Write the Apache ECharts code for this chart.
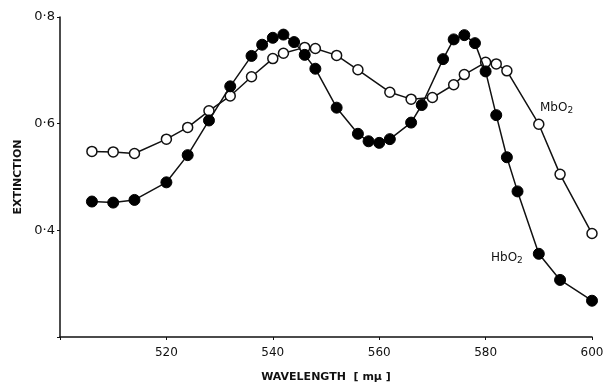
<!DOCTYPE html>
<html>
<head>
<meta charset="utf-8">
<script src="https://cdn.jsdelivr.net/npm/echarts@6/dist/echarts.min.js"></script>
<style>
  html, body { margin: 0; padding: 0; background: #fff; }
  #chart { width: 608px; height: 386px; }
</style>
</head>
<body>
<div id="chart"></div>
<script>
// wavelength in mμ, extinction
const mbWavelength = [506, 510, 514, 520, 524, 528, 532, 536, 540, 542, 546, 548, 552, 556, 562, 566, 570, 574, 576, 580, 582, 584, 590, 594, 600];
const mbExtinction = [0.548, 0.547, 0.544, 0.571, 0.593, 0.624, 0.652, 0.688, 0.722, 0.732, 0.743, 0.741, 0.728, 0.701, 0.659, 0.646, 0.649, 0.673, 0.692, 0.715, 0.712, 0.699, 0.599, 0.505, 0.394];

const hbWavelength = [506, 510, 514, 520, 524, 528, 532, 536, 538, 540, 542, 544, 546, 548, 552, 556, 558, 560, 562, 566, 568, 572, 574, 576, 578, 580, 582, 584, 586, 590, 594, 600];
const hbExtinction = [0.454, 0.452, 0.457, 0.490, 0.541, 0.606, 0.670, 0.727, 0.748, 0.761, 0.767, 0.753, 0.729, 0.703, 0.630, 0.581, 0.567, 0.564, 0.571, 0.602, 0.635, 0.721, 0.758, 0.766, 0.751, 0.698, 0.616, 0.537, 0.473, 0.356, 0.307, 0.268];

const yTicks = [0.4, 0.6, 0.8];
const xTicks = [520, 540, 560, 580, 600];

const font = 'DejaVu Sans';

function zip(xs, ys) {
  return xs.map((x, i) => [x, ys[i]]);
}

const chart = echarts.init(document.getElementById('chart'));

const option = {
  animation: false,
  backgroundColor: '#fff',
  grid: { left: 60, right: 16, top: 17, bottom: 49, outerBoundsMode: 'none' },
  xAxis: {
    type: 'value',
    min: 500,
    max: 600,
    interval: 20,
    name: 'WAVELENGTH  [ mμ ]',
    nameLocation: 'middle',
    nameGap: 35,
    nameTextStyle: { color: '#111', fontFamily: font, fontSize: 11, fontWeight: 'bold' },
    axisLine: { lineStyle: { color: '#111', width: 1.5 } },
    axisTick: { show: true, length: 3, lineStyle: { color: '#111' } },
    splitLine: { show: false },
    axisLabel: {
      color: '#111', fontFamily: font, fontSize: 12, margin: 10,
      formatter: v => xTicks.includes(v) ? String(v) : ''
    }
  },
  yAxis: {
    type: 'value',
    min: 0.2,
    max: 0.8,
    interval: 0.2,
    name: 'EXTINCTION',
    nameLocation: 'middle',
    nameRotate: 90,
    nameGap: 28,
    nameTextStyle: { color: '#111', fontFamily: font, fontSize: 11, fontWeight: 'bold' },
    axisLine: { show: true, lineStyle: { color: '#111', width: 1.5 } },
    axisTick: { show: true, length: 3, lineStyle: { color: '#111' } },
    splitLine: { show: false },
    axisLabel: {
      color: '#111', fontFamily: font, fontSize: 13, margin: 5,
      formatter: v => {
        const r = Math.round(v * 10) / 10;
        return yTicks.includes(r) ? r.toFixed(1).replace('.', '·') : '';
      }
    }
  },
  series: [
    {
      name: 'MbO2',
      type: 'line',
      data: zip(mbWavelength, mbExtinction),
      symbol: 'circle',
      symbolSize: 10,
      lineStyle: { color: '#111', width: 1.5 },
      itemStyle: { color: '#fff', borderColor: '#111', borderWidth: 1.5 },
      z: 2
    },
    {
      name: 'HbO2',
      type: 'line',
      data: zip(hbWavelength, hbExtinction),
      symbol: 'circle',
      symbolSize: 11,
      lineStyle: { color: '#111', width: 1.5 },
      itemStyle: { color: '#000', borderColor: '#000', borderWidth: 1 },
      z: 3
    }
  ],
  graphic: [
    {
      type: 'text',
      left: 540,
      top: 102,
      style: {
        text: '{a|MbO}{s|2}',
        rich: {
          a: { fontFamily: font, fontSize: 12, fill: '#111' },
          s: { fontFamily: font, fontSize: 9, fill: '#111', padding: [6, 0, 0, 0] }
        }
      }
    },
    {
      type: 'text',
      left: 491,
      top: 252,
      style: {
        text: '{a|HbO}{s|2}',
        rich: {
          a: { fontFamily: font, fontSize: 12, fill: '#111' },
          s: { fontFamily: font, fontSize: 9, fill: '#111', padding: [6, 0, 0, 0] }
        }
      }
    }
  ]
};

chart.setOption(option);
</script>
</body>
</html>
